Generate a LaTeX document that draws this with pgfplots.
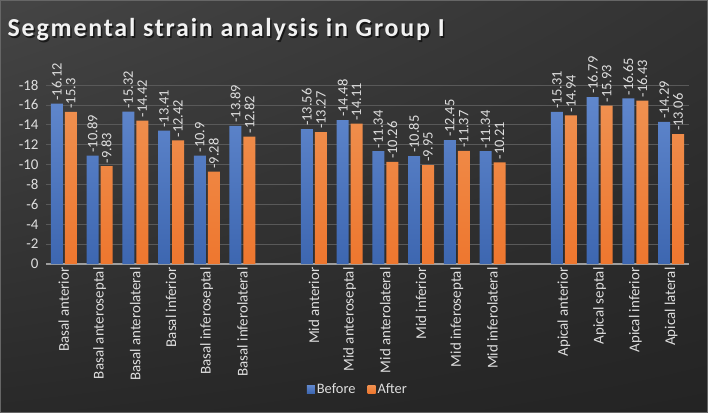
\documentclass[border=0pt]{standalone}
\usepackage{pgfplots}
\pgfplotsset{compat=1.18}
\usetikzlibrary{shadings}
\usepackage{fontspec}
\setmainfont{Carlito}
\newfontfamily\titlefont[LetterSpace=7]{Carlito}
\definecolor{cblue}{HTML}{4472C4}
\definecolor{corange}{HTML}{ED7D31}
\definecolor{ltxt}{HTML}{DEDEDE}
\begin{document}
\begin{tikzpicture}
\shade[upper left=black!73, upper right=black!80, lower left=black!84, lower right=black!86] (0bp,0bp) rectangle (708bp,413bp);
\draw[black!60, line width=1.2bp] (0.6bp,0.6bp) rectangle (707.4bp,412.4bp);
\node[anchor=base west, text=black, opacity=0.6, inner sep=0pt, font=\titlefont\bfseries\fontsize{26}{30}\selectfont] at (9bp,374.5bp) {Segmental strain analysis in Group I};
\node[anchor=base west, text=white!95!black, inner sep=0pt, font=\titlefont\bfseries\fontsize{26}{30}\selectfont] at (7.5bp,376bp) {Segmental strain analysis in Group I};
\begin{axis}[
  at={(367.5bp,238.5bp)}, anchor=center,
  scale only axis, width=643bp, height=179bp,
  xmin=-0.5, xmax=17.5, ymin=-18, ymax=0,
  y dir=reverse,
  ybar=2bp, bar width=12bp,
  axis line style={draw=none},
  major tick length=0pt,
  ytick={-18,-16,...,0},
  ymajorgrids, grid style={white!35!black, line width=0.6pt},
  extra y ticks={0}, extra y tick labels={},
  extra y tick style={grid style={white!62!black, line width=1.2pt}},
  /pgf/number format/assume math mode=true,
  yticklabel style={text=ltxt, font=\fontsize{15}{17}\selectfont, xshift=-4bp},
  xtick={0,1,2,3,4,5,7,8,9,10,11,12,14,15,16,17},
  xticklabels={Basal anterior,Basal anteroseptal,Basal anterolateral,Basal inferior,Basal inferoseptal,Basal inferolateral,Mid anterior,Mid anteroseptal,Mid anterolateral,Mid inferior,Mid inferoseptal,Mid inferolateral,Apical anterior,Apical septal,Apical inferior,Apical lateral},
  xticklabel style={rotate=90, anchor=east, text=ltxt, font=\fontsize{15}{17}\selectfont, yshift=0bp},
  nodes near coords,
  nodes near coords align={anchor=west},
  every node near coord/.append style={rotate=90, anchor=west, text=ltxt, font=\fontsize{14.5}{16}\selectfont, inner sep=3bp},
  legend style={at={(0.485,-0.70)}, anchor=center, draw=none, fill=none, text=ltxt, font=\fontsize{14.5}{16}\selectfont, legend columns=2, /tikz/every even column/.append style={column sep=10bp}},
  legend image code/.code={\fill[#1] (0bp,-4bp) rectangle (8bp,4bp);},
]
\addplot[draw=none, top color=cblue!85!white, bottom color=cblue!90!black] coordinates {
(0,-16.12) (1,-10.89) (2,-15.32) (3,-13.41) (4,-10.9) (5,-13.89)
(7,-13.56) (8,-14.48) (9,-11.34) (10,-10.85) (11,-12.45) (12,-11.34)
(14,-15.31) (15,-16.79) (16,-16.65) (17,-14.29)};
\addplot[draw=none, top color=corange!85!white, bottom color=corange!95!red] coordinates {
(0,-15.3) (1,-9.83) (2,-14.42) (3,-12.42) (4,-9.28) (5,-12.82)
(7,-13.27) (8,-14.11) (9,-10.26) (10,-9.95) (11,-11.37) (12,-10.21)
(14,-14.94) (15,-15.93) (16,-16.43) (17,-13.06)};
\legend{Before,After}
\end{axis}
\end{tikzpicture}
\end{document}
